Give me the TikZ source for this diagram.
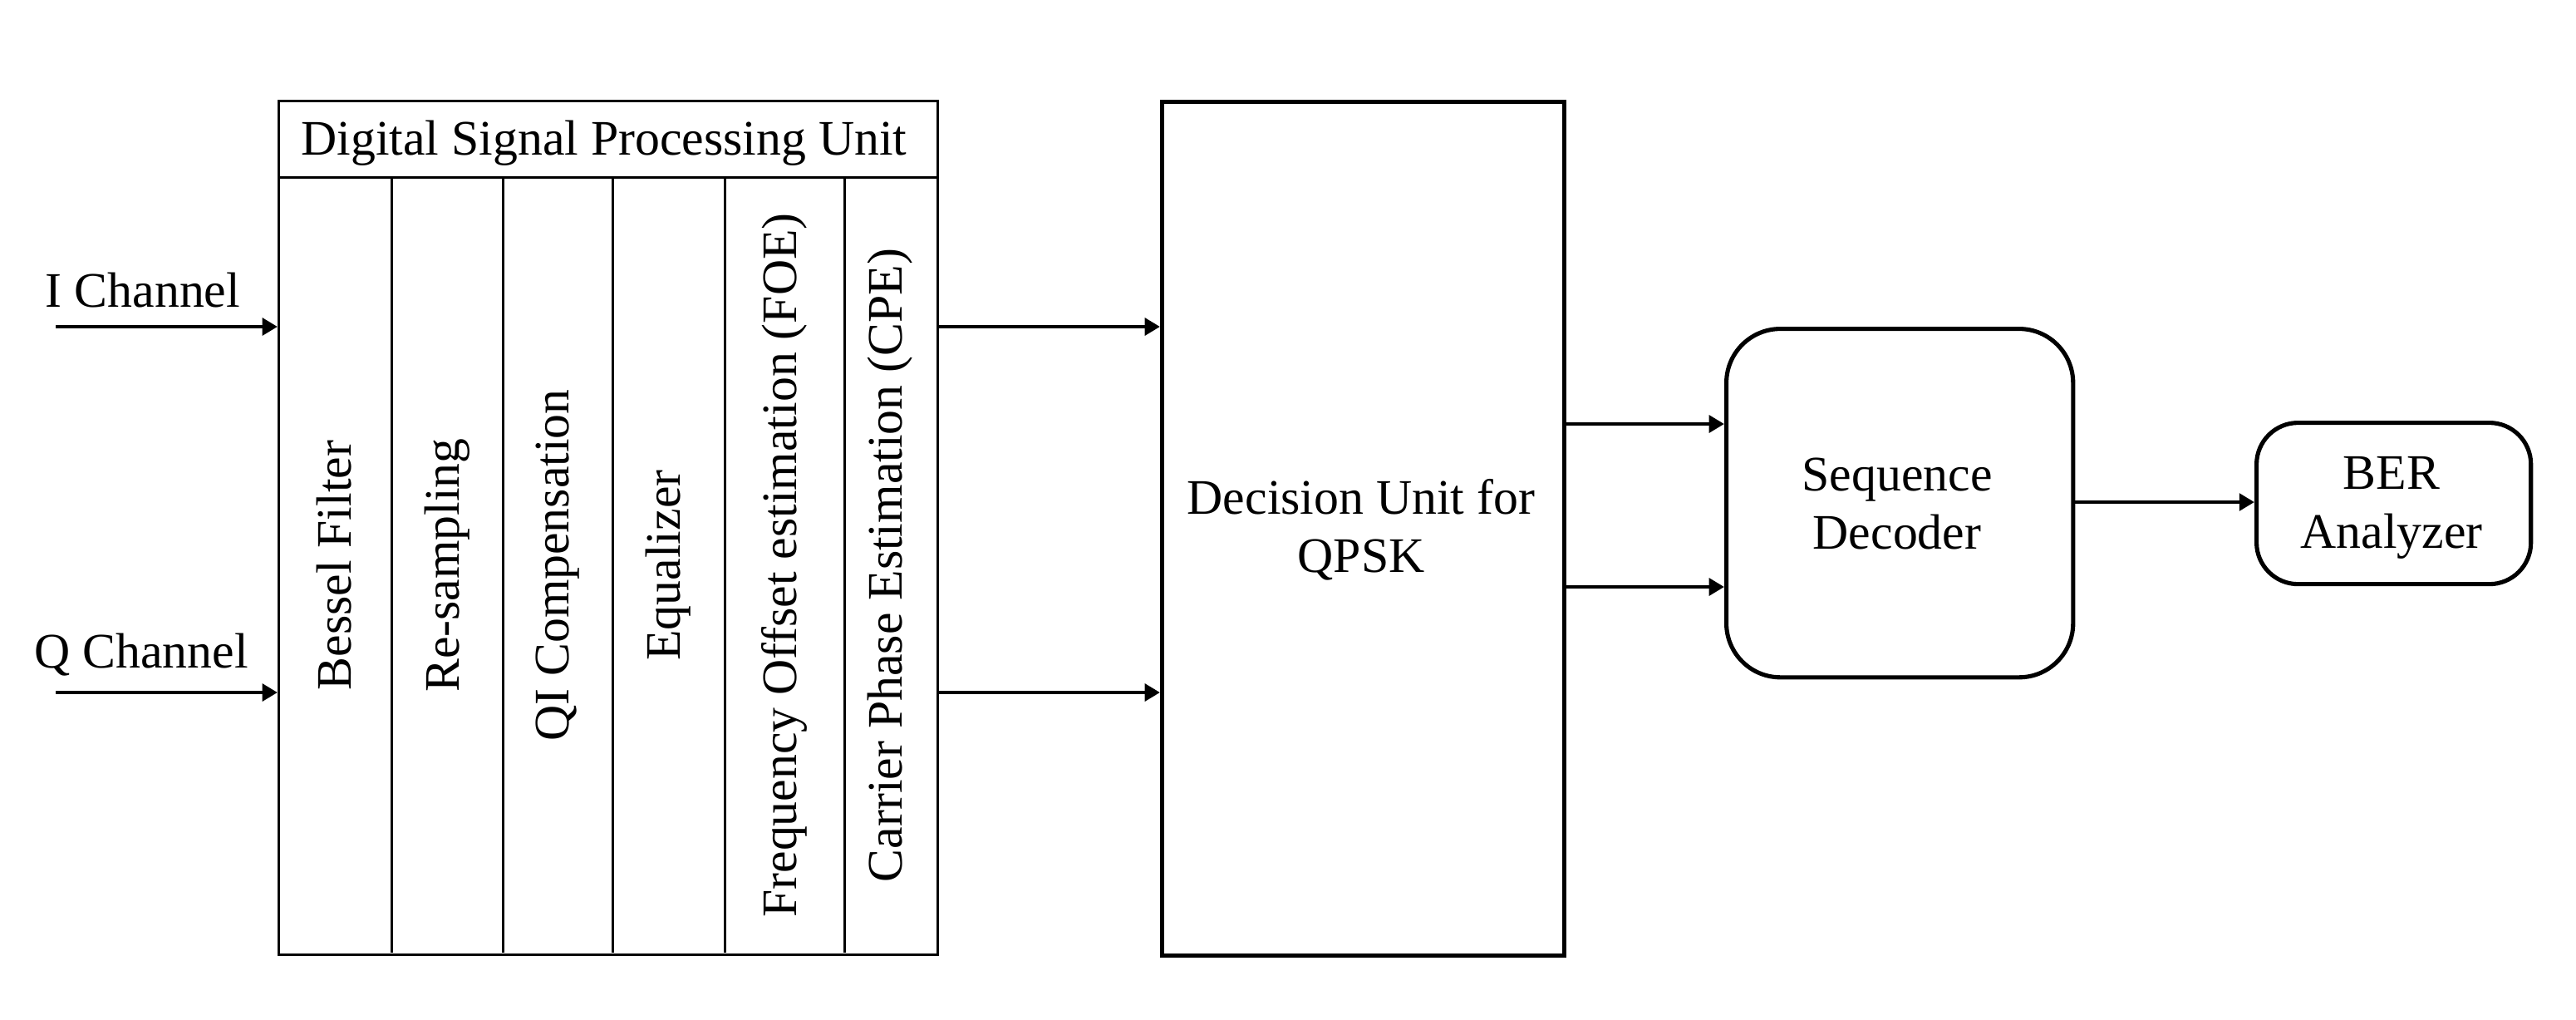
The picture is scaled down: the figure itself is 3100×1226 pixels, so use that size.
\documentclass[tikz,border=0pt]{standalone}
\usepackage{fontspec}
\setmainfont{Liberation Serif}
\usetikzlibrary{arrows.meta}
\begin{document}
\begin{tikzpicture}[x=0.01cm,y=-0.01cm,
  font=\fontsize{17}{20}\selectfont,
  thinbox/.style={draw,line width=0.85pt,inner sep=0pt,anchor=north west},
  thickbox/.style={draw,line width=1.45pt,inner sep=0pt,anchor=north west},
  divider/.style={line width=0.85pt},
  collabel/.style={rotate=90,inner sep=1pt},
  lbl/.style={inner sep=1pt,align=center},
  arr/.style={line width=1.4pt,-{Triangle[length=5.2pt,width=5.8pt]}}]
\useasboundingbox (0,0) rectangle (3100,1226);
% DSP unit
\node[thinbox,minimum width=7.93cm,minimum height=10.26cm] (dsp) at (334,120) {};
\draw[divider] (334,213) -- (1127,213);
\foreach \xx in {471,605,737,872,1016} \draw[divider] (\xx,213) -- (\xx,1146);
\node[lbl] (dsptitle) at (727,172) {Digital Signal Processing Unit};
\node[collabel] (c1) at (402.5,680) {Bessel Filter};
\node[collabel] (c2) at (538,680) {Re-sampling};
\node[collabel] (c3) at (671,680) {QI Compensation};
\node[collabel] (c4) at (804.5,680) {Equalizer};
\node[collabel] (c5) at (944,680) {Frequency Offset estimation (FOE)};
\node[collabel] (c6) at (1071.5,680) {Carrier Phase Estimation (CPE)};
% Decision unit
\node[thickbox,minimum width=4.84cm,minimum height=10.26cm] (dec) at (1396,120) {};
\node[lbl] (dectext) at (1638,637) {Decision Unit for\\QPSK};
% Sequence decoder
\node[thickbox,rounded corners=0.65cm,minimum width=4.17cm,minimum height=4.19cm] (seq) at (2075,393) {};
\node[lbl] (seqtext) at (2283,606) {Sequence\\Decoder};
% BER analyzer
\node[thickbox,rounded corners=0.5cm,minimum width=3.30cm,minimum height=1.94cm] (ber) at (2713,506) {};
\node[lbl] (bertext) at (2878,611) {BER\\Analyzer};
% inputs
\node[lbl] (ilab) at (172,349) {I Channel};
\node[lbl] (qlab) at (170,788) {Q Channel};
\coordinate (iin) at (67,393);
\coordinate (qin) at (67,833);
\coordinate (d1) at (0,510);
\coordinate (d2) at (0,706);
\coordinate (b1) at (0,604);
\draw[arr] (iin) -- (dsp.west |- iin);
\draw[arr] (qin) -- (dsp.west |- qin);
\draw[arr] (dsp.east |- iin) -- (dec.west |- iin);
\draw[arr] (dsp.east |- qin) -- (dec.west |- qin);
\draw[arr] (dec.east |- d1) -- (seq.west |- d1);
\draw[arr] (dec.east |- d2) -- (seq.west |- d2);
\draw[arr] (seq.east |- b1) -- (ber.west |- b1);
\end{tikzpicture}
\end{document}
